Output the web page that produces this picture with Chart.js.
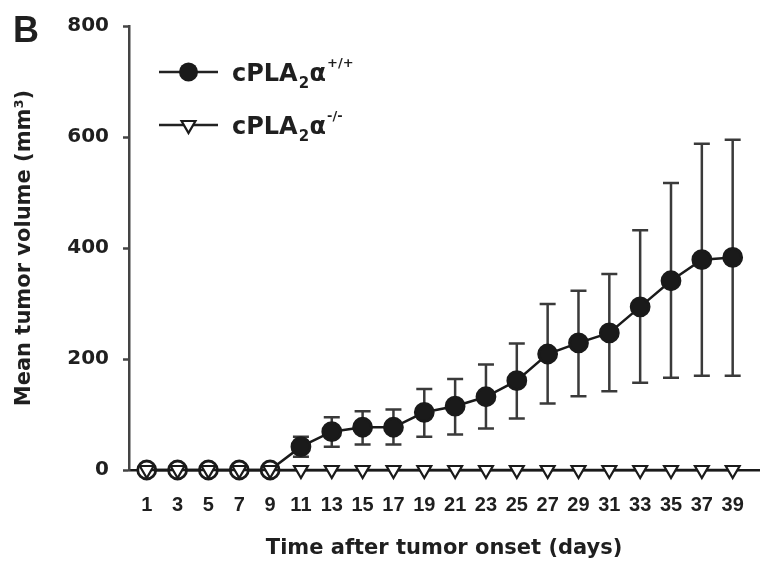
<!DOCTYPE html>
<html><head><meta charset="utf-8">
<script src="https://cdn.jsdelivr.net/npm/chart.js@4.4.0/dist/chart.umd.min.js"></script>
<style>html,body{margin:0;padding:0;background:#fff;}#wrap{width:771px;height:561px;position:relative;}</style>
</head><body><div id="wrap"><canvas id="c" width="771" height="561"></canvas></div>
<script>
// ---- data ----
const days = [1,3,5,7,9,11,13,15,17,19,21,23,25,27,29,31,33,35,37,39];
const wtMean  = [0,0,0,0,0,42,69,77,77,104,115,132,161,209,229,247,294,341,379,383];
const wtUpper = [0,0,0,0,0,60,95,106,109,146,164,190,228,299,323,353,432,517,588,595];
const wtLower = [0,0,0,0,0,24,42,46,46,60,64,75,93,120,133,142,157,166,170,170];
const koMean  = [0,0,0,0,0,0,0,0,0,0,0,0,0,0,0,0,0,0,0,0];
const yTicks = [0,200,400,600,800];
const xTitle = 'Time after tumor onset (days)';
const yTitle = 'Mean tumor volume (mm³)';
const panelLabel = 'B';
const wtLabelParts = [['cPLA',''],['2','sub'],['α',''],['+/+','sup']];
const koLabelParts = [['cPLA',''],['2','sub'],['α',''],['-/-','sup']];

const INK = '#1f1f1f';
const DJ = "'DejaVu Sans'";
const LS = "'Liberation Sans'";

const errorBars = {
  id: 'errorBars',
  beforeDatasetsDraw(chart) {
    const ctx = chart.ctx, xs = chart.scales.x, ys = chart.scales.y;
    ctx.save();
    ctx.strokeStyle = '#3a3a3a';
    ctx.lineWidth = 2.5;
    days.forEach((d, i) => {
      if (wtUpper[i] === wtLower[i]) return;
      const x = xs.getPixelForValue(d);
      const yu = ys.getPixelForValue(wtUpper[i]);
      const yl = ys.getPixelForValue(wtLower[i]);
      ctx.beginPath();
      ctx.moveTo(x, yu); ctx.lineTo(x, yl);
      ctx.moveTo(x - 8, yu); ctx.lineTo(x + 8, yu);
      ctx.moveTo(x - 8, yl); ctx.lineTo(x + 8, yl);
      ctx.stroke();
    });
    ctx.restore();
  }
};

function drawParts(ctx, parts, x, y) {
  parts.forEach(([t, k]) => {
    let size = 24, dy = 0;
    if (k === 'sub') { size = 15; dy = 7; }
    if (k === 'sup') { size = 13; dy = -14; }
    ctx.font = `bold ${size}px ${DJ}`;
    ctx.fillText(t, x, y + dy);
    x += ctx.measureText(t).width + (k === 'sub' ? 0.5 : 1);
  });
}

const decor = {
  id: 'decor',
  afterDraw(chart) {
    const ctx = chart.ctx;
    ctx.save();
    ctx.fillStyle = INK;
    ctx.textBaseline = 'alphabetic';
    ctx.textAlign = 'left';
    ctx.font = `bold 36px ${LS}`;
    ctx.fillText(panelLabel, 13, 42);
    // legend
    const rows = [{y: 72, parts: wtLabelParts, type: 'circle'}, {y: 125, parts: koLabelParts, type: 'tri'}];
    rows.forEach(r => {
      ctx.strokeStyle = '#222'; ctx.lineWidth = 2.5;
      ctx.beginPath(); ctx.moveTo(159, r.y); ctx.lineTo(218, r.y); ctx.stroke();
      if (r.type === 'circle') {
        ctx.fillStyle = '#1a1a1a';
        ctx.beginPath(); ctx.arc(188.5, r.y, 9.5, 0, Math.PI * 2); ctx.fill();
      } else {
        const rr = 8;
        ctx.fillStyle = '#fff'; ctx.lineWidth = 2.2; ctx.strokeStyle = '#1a1a1a';
        ctx.beginPath();
        ctx.moveTo(188.5 - rr * 0.866, r.y - rr * 0.5);
        ctx.lineTo(188.5 + rr * 0.866, r.y - rr * 0.5);
        ctx.lineTo(188.5, r.y + rr);
        ctx.closePath(); ctx.fill(); ctx.stroke();
      }
      ctx.fillStyle = INK;
      drawParts(ctx, r.parts, 232, r.y + 8.5);
    });
    ctx.restore();
  }
};

new Chart(document.getElementById('c'), {
  type: 'line',
  data: {
    datasets: [
      {
        label: 'cPLA2α-/-',
        data: days.map((d, i) => ({x: d, y: koMean[i]})),
        borderColor: '#1a1a1a', borderWidth: 2.5,
        pointStyle: 'triangle', rotation: 180, pointRadius: 8,
        pointBackgroundColor: '#fff', pointBorderColor: '#1a1a1a', pointBorderWidth: 2.2,
        clip: false, order: 0
      },
      {
        label: 'cPLA2α+/+',
        data: days.map((d, i) => ({x: d, y: wtMean[i]})),
        borderColor: '#1a1a1a', borderWidth: 2.5,
        pointStyle: 'circle', pointRadius: 9,
        pointBackgroundColor: c => (c.raw && c.raw.y === 0 ? '#fff' : '#1a1a1a'),
        pointBorderColor: '#1a1a1a', pointBorderWidth: 2.8,
        clip: false, order: 1
      }
    ]
  },
  options: {
    responsive: false, animation: false, devicePixelRatio: 1,
    layout: {padding: {top: 22, right: 1, left: 0, bottom: 0}},
    plugins: {legend: {display: false}, tooltip: {enabled: false}},
    scales: {
      x: {
        type: 'linear', min: -0.15, max: 40.72,
        afterBuildTicks: s => { s.ticks = days.map(v => ({value: v})); },
        afterFit: s => { s.height = 91; },
        ticks: {autoSkip: false, maxRotation: 0, padding: 15, color: INK,
                font: {family: LS, weight: 'bold', size: 20}},
        grid: {display: false},
        border: {display: true, color: '#1a1a1a', width: 2.5},
        title: {display: true, text: xTitle, color: INK, padding: {top: 0, bottom: 0},
                font: {family: DJ, weight: 'bold', size: 21}}
      },
      y: {
        type: 'linear', min: 0, max: 800,
        afterBuildTicks: s => { s.ticks = yTicks.map(v => ({value: v})); },
        afterFit: s => { s.width = 129; },
        ticks: {padding: 14, color: INK, font: {family: DJ, weight: 'bold', size: 20}},
        grid: {drawOnChartArea: false, drawTicks: true, tickLength: 6, tickWidth: 2.5, color: '#444'},
        border: {display: true, color: '#444', width: 2.5},
        title: {display: true, text: yTitle, color: INK, padding: {top: 12, bottom: 0},
                font: {family: DJ, weight: 'bold', size: 21}}
      }
    }
  },
  plugins: [errorBars, decor]
});
</script></body></html>
